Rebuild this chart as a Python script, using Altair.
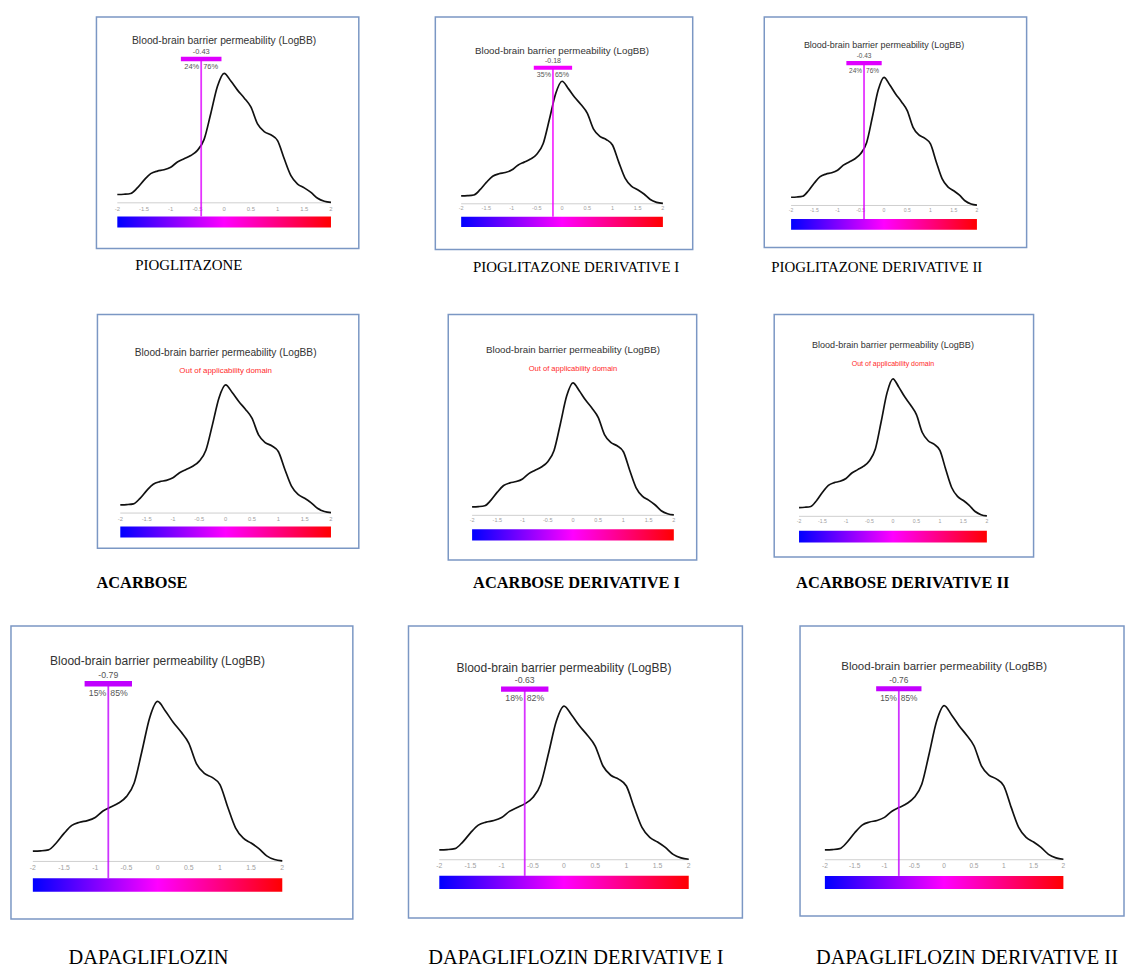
import altair as alt
import pandas as pd

# ---------------- data ----------------
density_x = [-2.0, -1.875, -1.75, -1.625, -1.5, -1.375, -1.25, -1.125, -1.0,
             -0.875, -0.75, -0.625, -0.5, -0.375, -0.25, -0.125, 0.0,
             0.125, 0.25, 0.375, 0.5, 0.625, 0.75, 0.875, 1.0,
             1.125, 1.25, 1.375, 1.5, 1.625, 1.75, 1.875, 2.0]
density_y = [0.064, 0.066, 0.072, 0.115, 0.175, 0.225, 0.245, 0.255, 0.275,
             0.315, 0.340, 0.365, 0.405, 0.490, 0.690, 0.900, 1.000,
             0.940, 0.870, 0.810, 0.740, 0.610, 0.550, 0.525, 0.480,
             0.340, 0.210, 0.145, 0.115, 0.080, 0.035, 0.012, 0.003]

names = ["PIOGLITAZONE", "PIOGLITAZONE DERIVATIVE I", "PIOGLITAZONE DERIVATIVE II",
         "ACARBOSE", "ACARBOSE DERIVATIVE I", "ACARBOSE DERIVATIVE II",
         "DAPAGLIFLOZIN", "DAPAGLIFLOZIN DERIVATIVE I", "DAPAGLIFLOZIN DERIVATIVE II"]
predicted = [-0.43, -0.18, -0.43, None, None, None, -0.79, -0.63, -0.76]
pct_low = [24, 35, 24, None, None, None, 15, 18, 15]
pct_high = [76, 65, 76, None, None, None, 85, 82, 85]
ci_half = 0.38

tick_values = [-2, -1.5, -1, -0.5, 0, 0.5, 1, 1.5, 2]
tick_labels = ["-2", "-1.5", "-1", "-0.5", "0", "0.5", "1", "1.5", "2"]

chart_title = "Blood-brain barrier permeability (LogBB)"
ood_text = "Out of applicability domain"

# ---------------- layout (pixels in the reference) ----------------
BOX = [(96, 16, 360, 249), (437, 17, 696, 251), (768, 17, 1032, 249),
       (97, 317, 360, 552), (450, 313, 700, 560), (778, 312, 1039, 556),
       (10, 623, 354, 918), (410, 627, 746, 921), (804, 628, 1130, 920)]
INNER = [(117, 332, 203, 72.7), (463, 666, 205, 81.7), (795, 982, 206.7, 77.7),
         (120, 332, 516.7, 387.7), (474, 677, 515, 381.7), (803, 992, 515, 376.7),
         (32, 283, 860, 699), (441, 692, 862.3, 707.7), (829, 1069, 863.3, 708.3)]
CAPTION = [(135, 266), (475, 268), (775, 268),
           (96, 584), (475, 584), (800, 584),
           (68, 959), (430, 959), (820, 959)]
CAP_SIZE = [15, 16.5, 20.5]
CAP_WEIGHT = ["normal", "bold", "normal"]
ROW_TOP = [16, 314, 625]
ORIGIN_X = 10

cscale = alt.Scale(domain=[-2, 0, 2], range=["#0000ff", "#ff00ff", "#ff0000"])
gradient = alt.LinearGradient(
    gradient="linear",
    stops=[alt.GradientStop(color="#0000ff", offset=0),
           alt.GradientStop(color="#ff00ff", offset=0.5),
           alt.GradientStop(color="#ff0000", offset=1)],
    x1=0, x2=1, y1=0, y2=0)

SANS = "Liberation Sans"
SERIF = "Liberation Serif"


def panel(i):
    L, T, R, B = BOX[i]
    gx0, gx1, base, peak = INNER[i]
    k = (gx1 - gx0) / 4.0
    h = base - peak
    xs = alt.Scale(domain=[-2 - (gx0 - L) / k, 2 + (R - gx1) / k], nice=False, zero=False)
    ys = alt.Scale(domain=[-(B - base) / h, (base - T) / h], nice=False, zero=False)
    W, H = R - L, B - T

    def xe(f):
        return alt.X(f"{f}:Q", scale=xs, axis=None)

    def ye(f):
        return alt.Y(f"{f}:Q", scale=ys, axis=None)

    layers = []
    axis_df = pd.DataFrame({"x0": [-2], "x1": [2], "y": [0.0]})
    layers.append(alt.Chart(axis_df).mark_rule(color="#cfcfcf", strokeWidth=1).encode(
        x=xe("x0"), x2="x1", y=ye("y")))
    tick_df = pd.DataFrame({"x": tick_values, "label": tick_labels,
                            "y": [-0.022] * len(tick_values)})
    layers.append(alt.Chart(tick_df).mark_text(
        fontSize=k * 0.11, color="#a0a0a0", baseline="top", font=SANS).encode(
        x=xe("x"), y=ye("y"), text="label:N"))
    grad_df = pd.DataFrame({"x0": [-2], "x1": [2], "y0": [-0.105], "y1": [-0.19]})
    layers.append(alt.Chart(grad_df).mark_rect(color=gradient).encode(
        x=xe("x0"), x2="x1", y=ye("y0"), y2="y1"))
    dens_df = pd.DataFrame({"x": density_x, "y": density_y})
    layers.append(alt.Chart(dens_df).mark_line(
        color="#111111", strokeWidth=1.7, interpolate="monotone").encode(
        x=xe("x"), y=ye("y")))
    title_df = pd.DataFrame({"x": [0.0], "y": [1.25], "t": [chart_title]})
    layers.append(alt.Chart(title_df).mark_text(
        fontSize=k * 0.193, color="#333333", font=SANS).encode(
        x=xe("x"), y=ye("y"), text="t:N"))

    v = predicted[i]
    if v is not None:
        ind = pd.DataFrame({
            "v": [v], "lo": [v - ci_half], "hi": [v + ci_half],
            "yb0": [1.093], "yb1": [1.127], "yr0": [1.11], "yr1": [-0.105],
            "ytxt": [1.168], "ypct": [1.05],
            "label": [f"{v:.2f}"], "pl": [f"{pct_low[i]}%"], "ph": [f"{pct_high[i]}%"]})
        cenc = alt.Color("v:Q", scale=cscale, legend=None)
        base_c = alt.Chart(ind)
        layers.append(base_c.mark_rule(strokeWidth=1.8, opacity=0.8).encode(
            x=xe("v"), y=ye("yr0"), y2="yr1", color=cenc))
        layers.append(base_c.mark_rect().encode(
            x=xe("lo"), x2="hi", y=ye("yb0"), y2="yb1", color=cenc))
        fs = k * 0.14
        layers.append(base_c.mark_text(fontSize=fs, color="#555555", font=SANS).encode(
            x=xe("v"), y=ye("ytxt"), text="label:N"))
        layers.append(base_c.mark_text(fontSize=fs, color="#555555", font=SANS,
                                       align="right", dx=-2).encode(
            x=xe("v"), y=ye("ypct"), text="pl:N"))
        layers.append(base_c.mark_text(fontSize=fs, color="#555555", font=SANS,
                                       align="left", dx=2).encode(
            x=xe("v"), y=ye("ypct"), text="ph:N"))
    else:
        ood_df = pd.DataFrame({"x": [0.0], "y": [1.105], "t": [ood_text]})
        layers.append(alt.Chart(ood_df).mark_text(
            fontSize=k * 0.15, color="#ff2a2a", font=SANS).encode(
            x=xe("x"), y=ye("y"), text="t:N"))

    row = i // 3
    cx, cy = CAPTION[i]
    rendered_bottom = ROW_TOP[row] + H
    cap = alt.TitleParams(text=names[i], orient="bottom", anchor="start", frame="group",
                          dx=cx - L, offset=cy - rendered_bottom, baseline="middle",
                          font=SERIF, fontSize=CAP_SIZE[row],
                          fontWeight=CAP_WEIGHT[row], color="#000000")
    return alt.layer(*layers).properties(width=W, height=H, title=cap)


def spacer(w):
    df = pd.DataFrame({"a": [0]})
    return alt.Chart(df).mark_point(opacity=0, size=1).encode(
        x=alt.X("a:Q", axis=None), y=alt.Y("a:Q", axis=None)
    ).properties(width=w, height=20, view=alt.ViewBackground(strokeOpacity=0))


def build_row(r):
    items = []
    right = ORIGIN_X
    for i in [3 * r, 3 * r + 1, 3 * r + 2]:
        L, T, R, B = BOX[i]
        if L - right > 0:
            items.append(spacer(L - right))
        items.append(panel(i))
        right = R
    return alt.hconcat(*items, spacing=0, bounds="flush")


rows = [build_row(r) for r in range(3)]
# vertical gaps: from each row's lowest caption edge to the next row's top
cap_bottom = [max(CAPTION[3 * r + j][1] for j in range(3)) + CAP_SIZE[r] / 2 for r in range(3)]
s1 = ROW_TOP[1] - cap_bottom[0] - 1
s2 = ROW_TOP[2] - cap_bottom[1]

chart = alt.vconcat(
    alt.vconcat(rows[0], rows[1], spacing=s1),
    rows[2], spacing=s2
).properties(
    padding={"left": ORIGIN_X - 8, "top": ROW_TOP[0] - 11, "right": 0, "bottom": 0},
    background="white"
).configure_view(stroke="#7b97c4", strokeWidth=1.5)

chart.save("out.html", embed_options={"renderer": "svg", "actions": False})
